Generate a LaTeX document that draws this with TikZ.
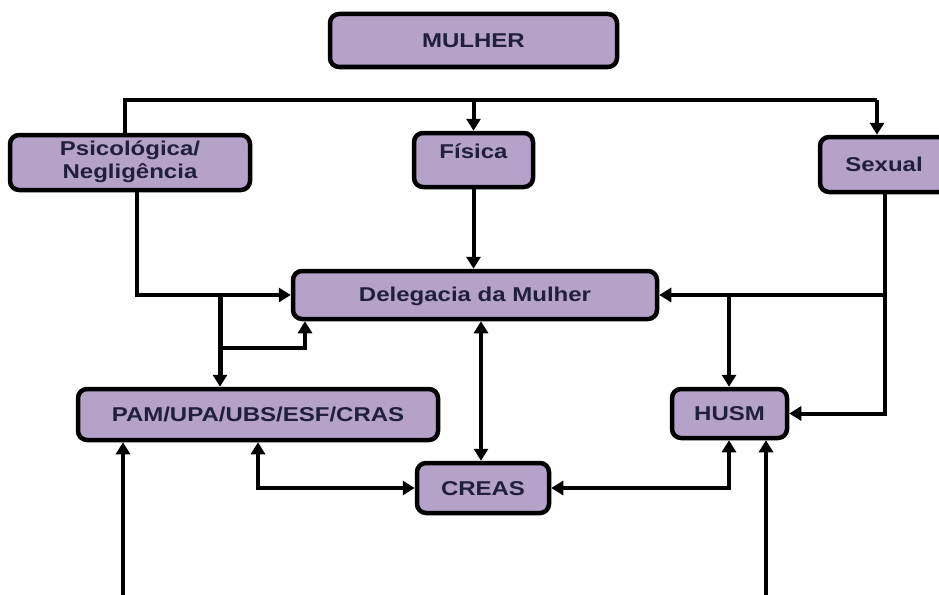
\documentclass[tikz,border=0pt]{standalone}
\usepackage{fontspec}
\setmainfont{Liberation Sans}[FakeStretch=1.2]
\usetikzlibrary{arrows.meta}
\definecolor{boxfill}{RGB}{180,162,200}
\definecolor{txt}{RGB}{32,32,60}
\tikzset{
  box/.style={draw=black, line width=4.5pt, rounded corners=9pt, fill=boxfill,
    inner sep=0pt, font=\fontsize{20}{23}\selectfont\bfseries, text=txt, align=center},
  lbl/.style={inner sep=0pt, font=\fontsize{20}{23}\selectfont\bfseries, text=txt, align=center},
  conn/.style={line width=4pt, draw=black},
  arr/.style={conn, -{Triangle[length=12pt,width=14pt]}},
  darr/.style={conn, {Triangle[length=12pt,width=14pt]}-{Triangle[length=12pt,width=14pt]}}
}
\begin{document}
\begin{tikzpicture}[x=1pt,y=-1pt]
\clip (0,0) rectangle (939,594);
\fill[white] (0,0) rectangle (939,594);
% boxes
\node[box, minimum width=287pt, minimum height=53pt] (mul) at (473.5,40.5) {};
\node[lbl] (mult) at (473.5,41) {MULHER};
\node[box, minimum width=240pt, minimum height=55pt] (psi) at (130,162.5) {};
\node[lbl] (psit) at (130,162) {Psicológica/\\Negligência};
\node[box, minimum width=119pt, minimum height=54pt] (fis) at (473.5,160) {};
\node[lbl] (fist) at (473.5,151) {Física};
\node[box, minimum width=128pt, minimum height=55pt] (sex) at (884,164.5) {};
\node[lbl] (sext) at (884,164) {Sexual};
\node[box, minimum width=364pt, minimum height=48pt] (del) at (475,295) {};
\node[lbl] (delt) at (475,296) {Delegacia da Mulher};
\node[box, minimum width=360pt, minimum height=51pt] (pam) at (258,414.5) {};
\node[lbl] (pamt) at (258,414) {PAM/UPA/UBS/ESF/CRAS};
\node[box, minimum width=115pt, minimum height=49pt] (husm) at (729.5,413.5) {};
\node[lbl] (husmt) at (729.5,414) {HUSM};
\node[box, minimum width=132pt, minimum height=50pt] (creas) at (483,488) {};
\node[lbl] (creast) at (483,489) {CREAS};
% coordinates
\coordinate (bl) at (125,100);
\coordinate (br) at (877,100);
\coordinate (pd) at (137,0);
\coordinate (j1) at (220,295);
\coordinate (j2) at (220,348);
\coordinate (dx) at (305,0);
\coordinate (cx) at (481,0);
\coordinate (sx) at (885,0);
\coordinate (j3) at (729,295);
\coordinate (j4) at (885,295);
\coordinate (b1) at (123,600);
\coordinate (b2) at (766,600);
% connectors
\draw[conn] (psi.north -| bl) -- (bl) -- (br);
\draw[arr] (br) -- (sex.north -| br);
\draw[arr] (fis.north |- bl) -- (fis.north);
\draw[arr] (psi.south -| pd) |- (del.west);
\draw[arr, line width=5pt] (j1) -- (pam.north -| j1);
\draw[arr] (j2) -| (del.south -| dx);
\draw[arr] (fis.south) -- (del.north -| fis.south);
\draw[darr] (del.south -| cx) -- (creas.north -| cx);
\draw[arr] (sex.south -| sx) |- (del.east);
\draw[arr] (j3) -- (husm.north -| j3);
\draw[arr] (j4) |- (husm.east);
\draw[darr] (pam.south) |- (creas.west);
\draw[darr] (husm.south -| j3) |- (creas.east);
\draw[arr] (b1) -- (pam.south -| b1);
\draw[arr] (b2) -- (husm.south -| b2);
\end{tikzpicture}
\end{document}
